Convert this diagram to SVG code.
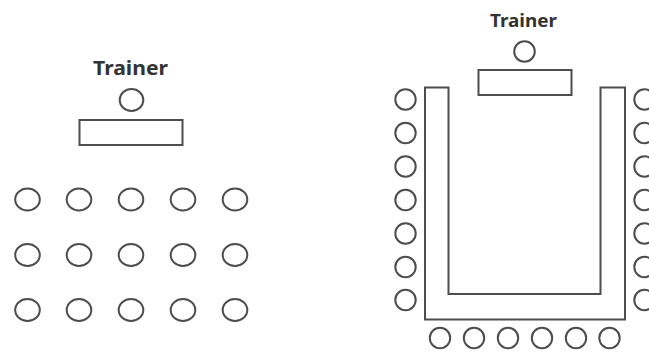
<svg xmlns="http://www.w3.org/2000/svg" width="649" height="352" viewBox="0 0 649 352">
<style>
.s{fill:#ffffff;stroke:#4d4d4d;stroke-width:2}
.t{fill:#ffffff;stroke:#4d4d4d;stroke-width:2}
.lbl{font-family:"Noto Sans","Liberation Sans",sans-serif;font-weight:bold;fill:#333333;text-anchor:middle}
</style>
<defs>
<ellipse id="seatL" rx="12.3" ry="11" class="s"/>
<circle id="seatR" r="10.2" class="s"/>
</defs>
<rect width="649" height="352" fill="#ffffff"/>
<g id="classroom">
<g id="trainer-left">
<text class="lbl" x="130.5" y="75" font-size="20" textLength="75" lengthAdjust="spacingAndGlyphs">Trainer</text>
<ellipse cx="131.5" cy="100" rx="11.8" ry="11" class="s"/>
</g>
<rect id="table-left" x="79.5" y="120" width="103" height="25" class="t"/>
<g id="seats-left">
<use href="#seatL" x="27.5" y="199.5"/><use href="#seatL" x="79" y="199.5"/><use href="#seatL" x="131" y="199.5"/><use href="#seatL" x="183" y="199.5"/><use href="#seatL" x="235" y="199.5"/>
<use href="#seatL" x="27.5" y="255"/><use href="#seatL" x="79" y="255"/><use href="#seatL" x="131" y="255"/><use href="#seatL" x="183" y="255"/><use href="#seatL" x="235" y="255"/>
<use href="#seatL" x="27.5" y="310"/><use href="#seatL" x="79" y="310"/><use href="#seatL" x="131" y="310"/><use href="#seatL" x="183" y="310"/><use href="#seatL" x="235" y="310"/>
</g>
</g>
<g id="u-shape">
<g id="trainer-right">
<text class="lbl" x="523.5" y="26.5" font-size="18.5" textLength="67" lengthAdjust="spacingAndGlyphs">Trainer</text>
<circle cx="524.5" cy="51.5" r="10.3" class="s"/>
</g>
<rect id="table-right" x="478.5" y="70" width="93" height="25" class="t"/>
<polygon id="u-table" points="425,87.5 448.5,87.5 448.5,294 600.5,294 600.5,87.5 625,87.5 625,319.5 425,319.5" class="t"/>
<g id="seats-u-left">
<use href="#seatR" x="405.5" y="99.5"/><use href="#seatR" x="405.5" y="133"/><use href="#seatR" x="405.5" y="166.5"/><use href="#seatR" x="405.5" y="200"/><use href="#seatR" x="405.5" y="233.5"/><use href="#seatR" x="405.5" y="267"/><use href="#seatR" x="405.5" y="300"/>
</g>
<g id="seats-u-right">
<use href="#seatR" x="644.5" y="99.5"/><use href="#seatR" x="644.5" y="133"/><use href="#seatR" x="644.5" y="166.5"/><use href="#seatR" x="644.5" y="200"/><use href="#seatR" x="644.5" y="233.5"/><use href="#seatR" x="644.5" y="267"/><use href="#seatR" x="644.5" y="300"/>
</g>
<g id="seats-u-bottom">
<use href="#seatR" x="440" y="338"/><use href="#seatR" x="474" y="338"/><use href="#seatR" x="508" y="338"/><use href="#seatR" x="542" y="338"/><use href="#seatR" x="576" y="338"/><use href="#seatR" x="609.5" y="338"/>
</g>
</g>
</svg>
